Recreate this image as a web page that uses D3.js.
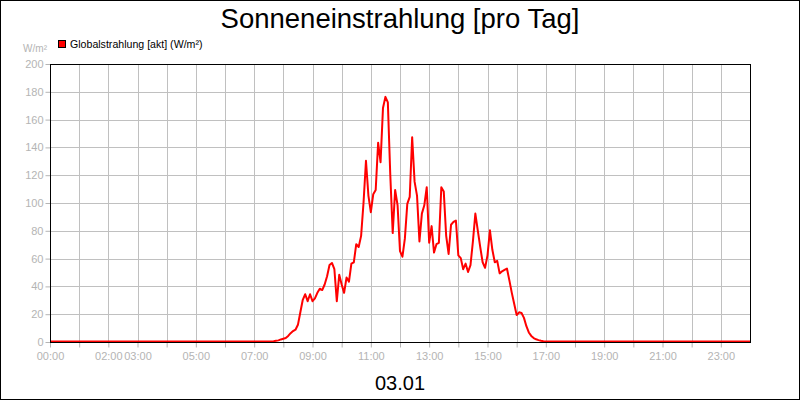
<!DOCTYPE html>
<html><head><meta charset="utf-8">
<script src="https://cdn.jsdelivr.net/npm/d3@7"></script>
<style>body{margin:0;background:#fff}svg{display:block}text{font-family:"Liberation Sans",Arial,sans-serif}</style>
</head><body><div id="chart"></div>
<script>
const title = "Sonneneinstrahlung [pro Tag]";
const dateLabel = "03.01";
const seriesName = "Globalstrahlung [akt] (W/m²)";
const unitLabel = "W/m²";
const xTickHours = [0, 2, 3, 5, 7, 9, 11, 13, 15, 17, 19, 21, 23];
const yTicks = [0, 20, 40, 60, 80, 100, 120, 140, 160, 180, 200];
// night (zero) readings, hours
const nightPoints = [[0, 0], [7.5, 0], [17.25, 0], [24, 0]];
// daytime readings every 5 minutes starting at 07:40
const dayStart = 7 + 40 / 60;
const dayValues = [
  0.2, 0.5, 0.8, 1.5, 2, 2.5, 4, 6, 7.5, 8.5, 12, 21,          // 07:40 - 08:35
  30, 34, 29, 34, 29, 31, 35, 38, 37, 41, 47, 55,               // 08:45 - 09:40
  56.5, 52, 29, 48, 41, 35, 46, 43, 56, 57, 70, 68,             // 09:45 - 10:40
  76, 100, 130, 105, 93, 106, 109, 143, 129, 168, 176, 172,     // 10:45 - 11:40
  120, 78, 109, 98, 65, 61, 74, 99, 104, 147, 115, 105,         // 11:45 - 12:40
  72, 92, 98, 111, 71, 83, 64, 70, 71, 111, 108, 76,            // 12:45 - 13:40
  63, 84, 86, 87, 62, 60, 52, 56, 50, 55, 72, 92,               // 13:45 - 14:40
  80, 68, 57, 53, 62, 80, 66, 57, 58, 49, 50.5, 51.5,           // 14:45 - 15:40
  52.5, 44, 35, 27, 19, 21, 20.5, 17, 11, 6.5, 4, 2.5,          // 15:45 - 16:40
  1.6, 1, 0.5, 0.2, 0                                           // 16:45 - 17:05
];

const W = 800, H = 400;
const m = {left: 50, right: 50, top: 64, bottom: 58};
const svg = d3.select("#chart").append("svg").attr("width", W).attr("height", H);
svg.append("rect").attr("x", 0.5).attr("y", 0.5).attr("width", W - 1).attr("height", H - 1)
  .attr("fill", "#fff").attr("stroke", "#000");

const x = d3.scaleLinear().domain([0, 24]).range([m.left, W - m.right]);
const y = d3.scaleLinear().domain([0, 200]).range([H - m.bottom, m.top]);

const grey = "#b4b4b4";
// grid
const g = svg.append("g");
g.selectAll("line.v").data(d3.range(1, 24)).join("line")
  .attr("x1", d => Math.round(x(d)) + 0.5).attr("x2", d => Math.round(x(d)) + 0.5)
  .attr("y1", y(0)).attr("y2", y(200)).attr("stroke", "#c0c0c0");
g.selectAll("line.h").data(yTicks.slice(1)).join("line")
  .attr("y1", d => Math.round(y(d)) + 0.5).attr("y2", d => Math.round(y(d)) + 0.5)
  .attr("x1", x(0)).attr("x2", x(24)).attr("stroke", "#c0c0c0");

// axes
const xAxis = d3.axisBottom(x).tickValues(d3.range(0, 24)).tickSize(5)
  .tickFormat(d => xTickHours.includes(d) ? String(d).padStart(2, "0") + ":00" : "");
const xa = svg.append("g").attr("transform", `translate(0,${Math.round(y(0)) + 0.5})`).call(xAxis);
xa.select(".domain").remove();
xa.selectAll("line").attr("stroke", grey);
xa.selectAll("text").attr("fill", grey).attr("font-size", 11).attr("dy", "0.9em")
  .style("font-family", "'Liberation Sans', Arial, sans-serif");

const yAxis = d3.axisLeft(y).tickValues(yTicks).tickSize(5).tickPadding(2);
const ya = svg.append("g").attr("transform", `translate(${Math.round(x(0)) + 0.5},0)`).call(yAxis);
ya.select(".domain").remove();
ya.selectAll("line").attr("stroke", grey);
ya.selectAll("text").attr("fill", grey).attr("font-size", 11)
  .style("font-family", "'Liberation Sans', Arial, sans-serif");

// line
const dayPoints = dayValues.map((v, i) => [dayStart + i * 5 / 60, v]);
const pts = [nightPoints[0], nightPoints[1], ...dayPoints, nightPoints[2], nightPoints[3]];
svg.append("path").datum(pts)
  .attr("d", d3.line().x(d => x(d[0])).y(d => y(d[1]) - 0.5))
  .attr("fill", "none").attr("stroke", "#ff0000").attr("stroke-width", 2).attr("stroke-linejoin", "round");

// frame
svg.append("rect").attr("x", Math.round(x(0)) + 0.5).attr("y", Math.round(y(200)) + 0.5)
  .attr("width", Math.round(x(24)) - Math.round(x(0))).attr("height", Math.round(y(0)) - Math.round(y(200)))
  .attr("fill", "none").attr("stroke", "#000");

// texts
svg.append("text").attr("x", 400).attr("y", 28).attr("text-anchor", "middle")
  .attr("font-size", 27.5).text(title);
svg.append("text").attr("x", 400).attr("y", 390).attr("text-anchor", "middle")
  .attr("font-size", 20).text(dateLabel);
svg.append("text").attr("x", 47).attr("y", 52).attr("text-anchor", "end")
  .attr("font-size", 10).attr("fill", grey).text(unitLabel);
svg.append("rect").attr("x", 58.5).attr("y", 40.5).attr("width", 7).attr("height", 7)
  .attr("fill", "#ff0000").attr("stroke", "#000");
svg.append("text").attr("x", 70).attr("y", 48).attr("font-size", 10.6).text(seriesName);
</script></body></html>
